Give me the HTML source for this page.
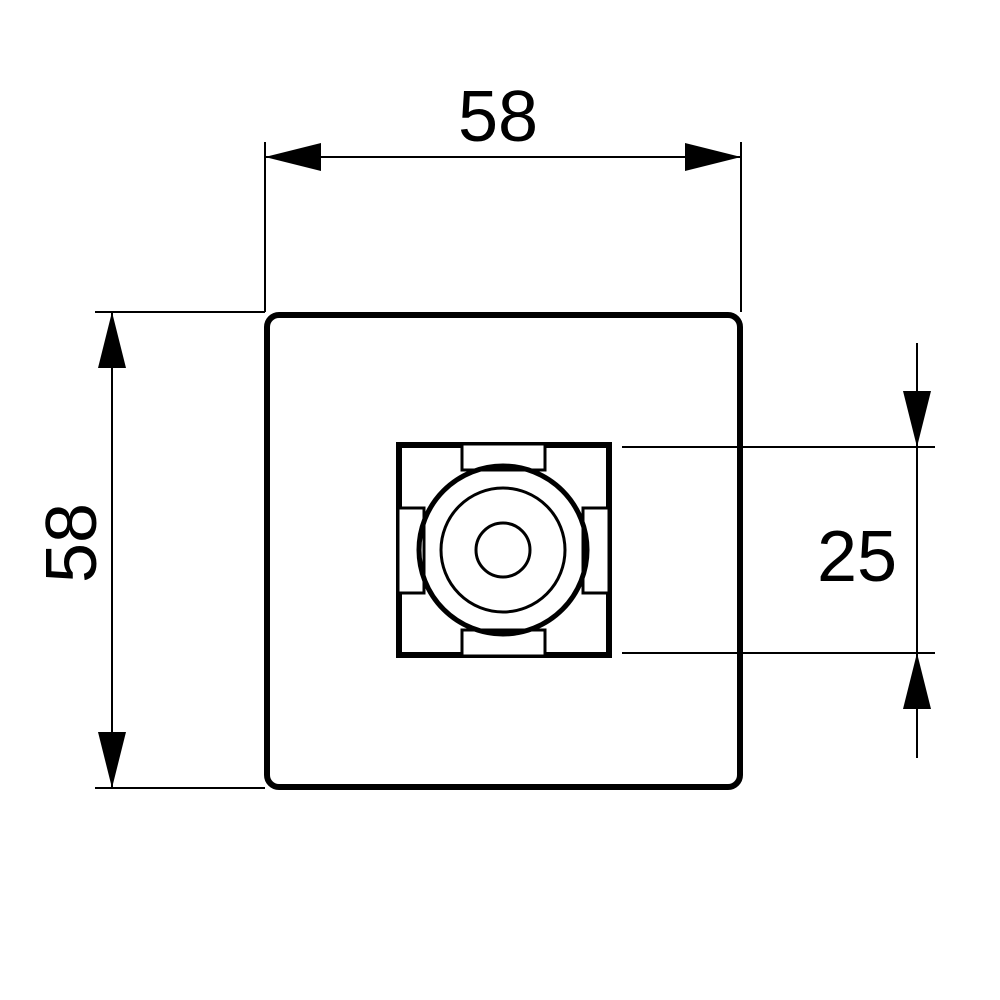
<!DOCTYPE html>
<html><head><style>body{margin:0;background:#fff}svg{display:block}</style></head>
<body>
<svg width="1000" height="1000" viewBox="0 0 1000 1000" xmlns="http://www.w3.org/2000/svg">
<g stroke="#000" fill="none">
<rect x="267" y="315" width="473" height="472" rx="12" stroke-width="6"/>
<line x1="265" y1="142" x2="265" y2="312" stroke-width="2"/>
<line x1="741" y1="142" x2="741" y2="312" stroke-width="2"/>
<line x1="265" y1="157" x2="741" y2="157" stroke-width="2"/>
<line x1="95" y1="312" x2="265" y2="312" stroke-width="2"/>
<line x1="95" y1="788" x2="265" y2="788" stroke-width="2"/>
<line x1="112" y1="312" x2="112" y2="788" stroke-width="2"/>
<line x1="622" y1="447" x2="935" y2="447" stroke-width="2"/>
<line x1="622" y1="653" x2="935" y2="653" stroke-width="2"/>
<line x1="917" y1="343" x2="917" y2="758" stroke-width="2"/>
<rect x="399" y="445" width="210" height="210" stroke-width="6"/>
</g>
<g fill="#fff" stroke="#000" stroke-width="3">
<rect x="462" y="444" width="83" height="26"/>
<rect x="462" y="630" width="83" height="26"/>
<rect x="398" y="508" width="26" height="85"/>
<rect x="583" y="508" width="26" height="85"/>
</g>
<g fill="none" stroke="#000">
<circle cx="503" cy="550" r="84" stroke-width="5"/>
<circle cx="503" cy="550" r="62" stroke-width="3"/>
<circle cx="503" cy="550" r="27" stroke-width="3"/>
</g>
<g fill="#000">
<polygon points="265,157 321,143 321,171"/>
<polygon points="741,157 685,143 685,171"/>
<polygon points="112,312 98,368 126,368"/>
<polygon points="112,788 98,732 126,732"/>
<polygon points="917,447 903,391 931,391"/>
<polygon points="917,653 903,709 931,709"/>
</g>
<g font-family="Liberation Sans, sans-serif" font-size="72" fill="#000">
<text x="498" y="141" text-anchor="middle">58</text>
<text x="857" y="581" text-anchor="middle">25</text>
<text transform="translate(96,543) rotate(-90)" text-anchor="middle">58</text>
</g>
</svg>
</body></html>
